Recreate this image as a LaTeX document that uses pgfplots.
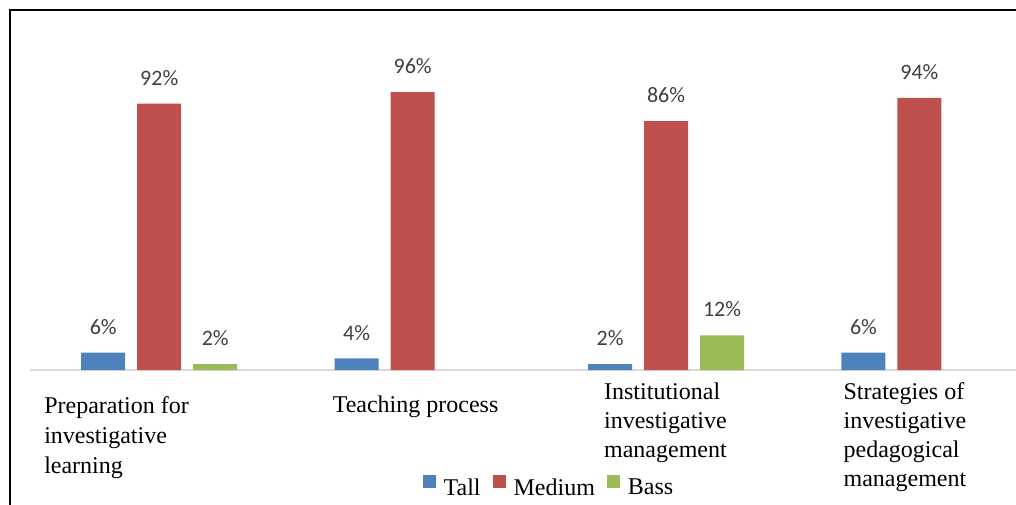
\documentclass[border=0pt]{standalone}
\usepackage{pgfplots}
\pgfplotsset{compat=1.18}
\usepackage{fontspec}
\setmainfont{Liberation Serif}
\newfontfamily\carlito{Carlito}
\definecolor{cTall}{HTML}{4F81BD}
\definecolor{cMed}{HTML}{C0504D}
\definecolor{cBass}{HTML}{9BBB59}
\definecolor{lblgray}{HTML}{404040}
\definecolor{axgray}{HTML}{D9D9D9}
\begin{document}
\begin{tikzpicture}
\useasboundingbox (0pt,0pt) rectangle (1016pt,504pt);
\fill[white] (0pt,0pt) rectangle (1016pt,504pt);
\draw[axgray, line width=2pt] (30pt,134pt) -- (1030pt,134pt);
\begin{axis}[
  at={(30pt,134pt)}, anchor=south west,
  x=253.4pt, y=2.895pt,
  xmin=-0.51, xmax=3.5, ymin=0, ymax=110,
  enlargelimits=false, clip=false,
  hide axis,
  ybar=12pt, bar width=44pt,
  /pgf/number format/assume math mode=true,
  nodes near coords={\pgfmathprintnumber{\pgfplotspointmeta}\%},
  nodes near coords style={font=\carlito\fontsize{22}{22}\selectfont, text=lblgray, anchor=south, inner sep=0pt, yshift=18pt},
  legend style={at={(axis cs:1.538,-40.4)}, anchor=center, draw=none, fill=none,
    font=\fontsize{24}{29}\selectfont, legend columns=3,
    /tikz/every odd column/.append style={column sep=6pt},
    /tikz/every even column/.append style={column sep=10pt}},
  legend image code/.code={\fill[#1] (0pt,-1pt) rectangle (13pt,12pt);},
]
\addplot[fill=cTall, draw=none] coordinates {(0,6) (1,4) (2,2) (3,6)};
\addplot[fill=cMed, draw=none] coordinates {(0,92) (1,96) (2,86) (3,94)};
\addplot[fill=cBass, draw=none] coordinates {(0,2) (2,12)};
\legend{Tall, Medium, Bass}
\node[anchor=north west, inner sep=0pt, align=left, font=\fontsize{24}{30}\selectfont] at (axis cs:-0.4545,-9.0) {Preparation for\\investigative\\learning};
\node[anchor=north west, inner sep=0pt, align=left, font=\fontsize{24}{30}\selectfont] at (axis cs:0.684,-9.0) {Teaching process};
\node[anchor=north west, inner sep=0pt, align=left, font=\fontsize{24}{29}\selectfont] at (axis cs:1.755,-4.3) {Institutional\\investigative\\management};
\node[anchor=north west, inner sep=0pt, align=left, font=\fontsize{24}{29}\selectfont] at (axis cs:2.700,-4.3) {Strategies of\\investigative\\pedagogical\\management};
\end{axis}
\fill[white] (0pt,130pt) rectangle (29pt,138pt);
\draw[black, line width=2.5pt] (10pt,-5pt) -- (10pt,494pt) -- (1030pt,494pt);
\end{tikzpicture}
\end{document}
